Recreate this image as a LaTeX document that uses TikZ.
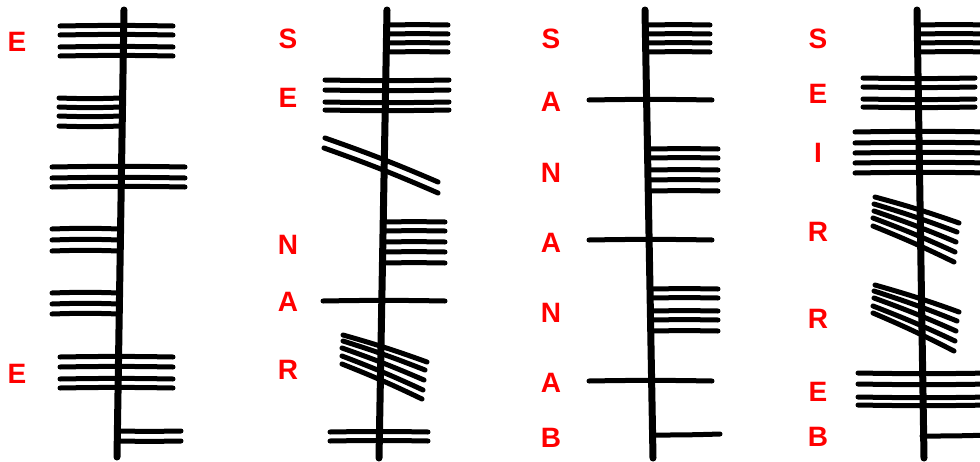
\documentclass[tikz,border=0pt]{standalone}
\usepackage{fontspec}
\setmainfont{Liberation Sans}
\usetikzlibrary{positioning}

\begin{document}
\begin{tikzpicture}[x=1pt, y=-1pt,
  stem/.style={line width=7pt, line cap=round},
  score/.style={line width=5pt, line cap=round},
  letter/.style={text=red, font=\fontsize{28}{28}\selectfont\bfseries, inner sep=0pt},
]
\useasboundingbox (0,0) rectangle (980,461);
\clip (0,0) rectangle (980,461);

% First inscription
\draw[stem] (124,10) -- (117,457);
\foreach \y in {26,35,47,56} \draw[score] (60,\y) to[bend left=1] (173,\y);
\foreach \y in {98,107,116,126} \draw[score] (59,\y) to[bend right=2] (121,\y);
\foreach \y in {167,178,187} \draw[score] (52,\y) to[bend left=1] (185,\y);
\foreach \y in {229,240,251} \draw[score] (52,\y) to[bend left=2] (119,\y);
\foreach \y in {293,304,314} \draw[score] (52,\y) to[bend left=2] (119,\y);
\foreach \y in {357,367,379,388} \draw[score] (60,\y) to[bend left=1] (173,\y);
\foreach \y in {431,441} \draw[score] (118,\y) to[bend right=1] (181,\y);
\node[letter] (e1a) at (17,42) {E};
\node[letter] (e1b) at (17,374) {E};

% Second inscription
\draw[stem] (387,10) -- (379,458);
\foreach \y in {25,34,43,52} \draw[score] (387,\y) to[bend left=1] (448,\y);
\foreach \y in {80,90,102,110} \draw[score] (325,\y) to[bend right=1] (449,\y);
\draw[score] (325,138) to[bend left=2] (438,182);
\draw[score] (324,148) to[bend left=2] (438,193);
\foreach \y in {222,231,242,252,263} \draw[score] (383,\y) to[bend left=1] (445,\y);
\draw[score] (323,301) to[bend left=1] (445,301);
\foreach \xa/\ya/\xb/\yb in {343/335/427/362, 343/341/425/370, 342/348/424/380,
    342/356/423/390, 342/364/422/399}
  \draw[score] (\xa,\ya) to[bend left=2] (\xb,\yb);
\foreach \y in {432,441} \draw[score] (330,\y) to[bend left=1] (428,\y);
\node[letter] (s2) at (288,39) {S};
\node[letter] (e2) at (288,98) {E};
\node[letter] (n2) at (288,245) {N};
\node[letter] (a2) at (288,302) {A};
\node[letter] (r2) at (288,370) {R};

% Third inscription
\draw[stem] (645,10) -- (653,458);
\foreach \y in {25,34,43,52} \draw[score] (647,\y) to[bend left=1] (710,\y);
\foreach \y in {149,158,170,180,191} \draw[score] (650,\y) to[bend left=1] (718,\y);
\foreach \y in {289,298,311,320,331} \draw[score] (651,\y) to[bend left=1] (718,\y);
\foreach \y in {100,240,381} \draw[score] (589,\y) to[bend left=1] (712,\y);
\draw[score] (653,435) to[bend right=1] (720,434);
\node[letter] (s3) at (551,39) {S};
\node[letter] (a3a) at (551,102) {A};
\node[letter] (n3a) at (551,173) {N};
\node[letter] (a3b) at (551,243) {A};
\node[letter] (n3b) at (551,313) {N};
\node[letter] (a3c) at (551,383) {A};
\node[letter] (b3) at (551,438) {B};

% Fourth inscription
\draw[stem] (917,10) -- (924,458);
\foreach \y in {25,34,43,52} \draw[score] (918,\y) to[bend left=1] (990,\y);
\foreach \y in {78,87,99,107} \draw[score] (863,\y) to[bend right=1] (975,\y);
\foreach \y in {132,143,153,163,173} \draw[score] (855,\y) to[bend left=1] (990,\y);
\foreach \xa/\ya/\xb/\yb in {875/197/959/223, 874/204/957/232, 874/211/956/242,
    873/218/955/252, 873/226/954/262}
  \draw[score] (\xa,\ya) to[bend left=2] (\xb,\yb);
\foreach \xa/\ya/\xb/\yb in {875/285/959/312, 874/291/957/321, 874/298/956/331,
    873/306/955/341, 873/313/954/351}
  \draw[score] (\xa,\ya) to[bend left=2] (\xb,\yb);
\foreach \y in {373,384,397,405} \draw[score] (858,\y) to[bend right=1] (990,\y);
\draw[score] (922,436) to[bend right=1] (990,435);
\node[letter] (s4) at (818,39) {S};
\node[letter] (e4a) at (818,94) {E};
\node[letter] (i4) at (818,153) {I};
\node[letter] (r4a) at (818,232) {R};
\node[letter] (r4b) at (818,319) {R};
\node[letter] (e4b) at (818,392) {E};
\node[letter] (b4) at (818,437) {B};

\end{tikzpicture}
\end{document}
